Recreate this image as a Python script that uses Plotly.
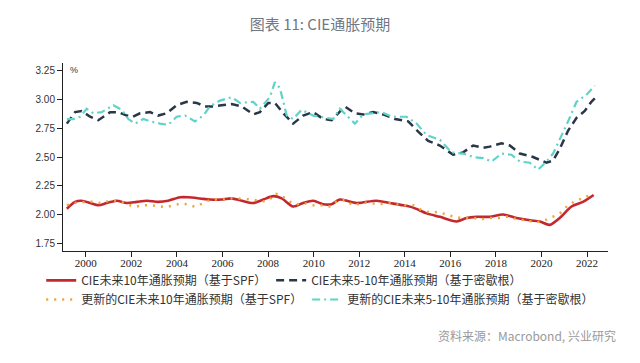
import plotly.graph_objects as go

# ---- data (decimal years, percent) ----
spf_x = [1999.17, 1999.53, 1999.82, 2000.19, 2000.55, 2000.92, 2001.36, 2001.8, 2002.24, 2002.68,
         2003.18, 2003.62, 2004.14, 2004.5, 2005.01, 2005.45, 2005.96, 2006.4, 2006.84, 2007.35,
         2007.79, 2008.23, 2008.6, 2009.1, 2009.54, 2009.98, 2010.42, 2010.79, 2011.15, 2011.89,
         2012.76, 2013.35, 2013.93, 2014.37, 2014.96, 2015.54, 2016.27, 2016.71, 2017.15, 2017.73,
         2018.32, 2018.9, 2019.49, 2019.93, 2020.36, 2020.8, 2021.32, 2021.82, 2022.29]
spf_y = [2.05, 2.11, 2.12, 2.10, 2.08, 2.10, 2.12, 2.10, 2.11, 2.12,
         2.11, 2.12, 2.15, 2.15, 2.14, 2.13, 2.13, 2.14, 2.12, 2.10,
         2.13, 2.16, 2.14, 2.07, 2.10, 2.12, 2.09, 2.09, 2.13, 2.10,
         2.12, 2.10, 2.08, 2.06, 2.01, 1.98, 1.94, 1.97, 1.98, 1.98,
         2.00, 1.97, 1.95, 1.94, 1.91, 1.97, 2.07, 2.11, 2.17]

mich_x = [1999.17, 1999.53, 1999.82, 2000.19, 2000.55, 2001.07, 2001.43, 2001.8, 2002.07, 2002.38,
          2002.82, 2003.18, 2003.55, 2003.99, 2004.43, 2004.87, 2005.23, 2005.6, 2005.96, 2006.4,
          2006.84, 2007.06, 2007.35, 2007.64, 2008.01, 2008.3, 2008.67, 2009.1, 2009.54, 2009.98,
          2010.42, 2010.79, 2011.15, 2011.37, 2011.81, 2012.18, 2012.61, 2013.05, 2013.57, 2014.15,
          2014.59, 2015.03, 2015.54, 2016.12, 2016.56, 2017.0, 2017.44, 2017.73, 2018.25, 2018.61,
          2019.05, 2019.63, 2020.22, 2020.51, 2020.8, 2021.17, 2021.54, 2021.9, 2022.19, 2022.34]
mich_y = [2.79, 2.89, 2.90, 2.85, 2.82, 2.89, 2.89, 2.86, 2.85, 2.88,
          2.89, 2.86, 2.88, 2.95, 2.98, 2.97, 2.94, 2.94, 2.95, 2.96,
          2.94, 2.91, 2.87, 2.89, 2.97, 2.97, 2.88, 2.79, 2.86, 2.89,
          2.83, 2.82, 2.89, 2.94, 2.88, 2.87, 2.89, 2.87, 2.83, 2.81,
          2.72, 2.64, 2.60, 2.52, 2.54, 2.60, 2.58, 2.59, 2.62, 2.60,
          2.53, 2.50, 2.45, 2.47, 2.57, 2.73, 2.84, 2.90, 2.98, 3.01]

spf_new_x = [1999.17, 1999.53, 2000.33, 2000.7, 2001.07, 2001.43, 2001.8, 2002.16, 2002.53, 2002.9,
             2003.26, 2003.62, 2004.06, 2004.43, 2004.8, 2005.16, 2005.53, 2005.89, 2006.18, 2006.6,
             2007.28, 2008.0, 2008.3, 2008.6, 2009.18, 2009.54, 2009.98, 2010.35, 2010.7, 2011.08,
             2011.45, 2011.74, 2012.1, 2012.47, 2012.83, 2013.27, 2013.64, 2014.0, 2014.37, 2014.74,
             2015.1, 2015.46, 2015.83, 2016.2, 2016.56, 2017.0, 2017.37, 2017.73, 2018.1, 2018.53,
             2018.9, 2019.27, 2019.63, 2020.0, 2020.36, 2020.8, 2021.17, 2021.54, 2021.9, 2022.26]
spf_new_y = [2.08, 2.10, 2.11, 2.10, 2.12, 2.12, 2.09, 2.07, 2.08, 2.08,
             2.07, 2.07, 2.09, 2.09, 2.07, 2.10, 2.13, 2.13, 2.14, 2.14,
             2.13, 2.12, 2.18, 2.16, 2.09, 2.10, 2.08, 2.08, 2.07, 2.12,
             2.12, 2.08, 2.10, 2.10, 2.09, 2.10, 2.09, 2.08, 2.08, 2.04,
             2.02, 2.02, 2.00, 1.98, 1.97, 1.97, 1.96, 1.97, 1.97, 1.98,
             1.96, 1.95, 1.94, 1.94, 1.97, 2.01, 2.08, 2.12, 2.15, 2.18]

mich_new_x = [1999.17, 1999.46, 1999.75, 2000.04, 2000.33, 2000.7, 2001.21, 2001.58, 2001.87, 2002.16,
              2002.53, 2002.82, 2003.26, 2003.62, 2003.99, 2004.36, 2004.79, 2005.16, 2005.45, 2005.89,
              2006.4, 2006.77, 2007.35, 2007.64, 2008.08, 2008.3, 2008.52, 2008.82, 2009.1, 2009.47,
              2009.98, 2010.35, 2010.86, 2011.15, 2011.81, 2012.18, 2012.61, 2012.98, 2013.42, 2014.08,
              2014.52, 2014.96, 2015.54, 2016.05, 2016.56, 2017.0, 2017.44, 2017.81, 2018.25, 2018.68,
              2019.05, 2019.49, 2019.85, 2020.22, 2020.51, 2020.8, 2021.17, 2021.54, 2021.97, 2022.34]
mich_new_y = [2.83, 2.83, 2.85, 2.92, 2.88, 2.89, 2.95, 2.91, 2.83, 2.79,
              2.83, 2.81, 2.79, 2.78, 2.85, 2.86, 2.81, 2.86, 2.94, 2.99,
              3.02, 2.97, 2.98, 2.92, 3.02, 3.15, 3.10, 2.86, 2.83, 2.91,
              2.86, 2.85, 2.83, 2.92, 2.79, 2.87, 2.88, 2.89, 2.85, 2.85,
              2.79, 2.69, 2.65, 2.54, 2.53, 2.50, 2.49, 2.46, 2.53, 2.52,
              2.46, 2.45, 2.39, 2.46, 2.53, 2.65, 2.81, 2.98, 3.04, 3.12]

x_ticks = list(range(2000, 2023, 2))
y_ticks = [1.75, 2.00, 2.25, 2.50, 2.75, 3.00, 3.25]

names = ["CIE未来10年通胀预期（基于SPF）",
         "CIE未来5-10年通胀预期（基于密歇根）",
         "更新的CIE未来10年通胀预期（基于SPF）",
         "更新的CIE未来5-10年通胀预期（基于密歇根）"]

fig = go.Figure()
fig.add_trace(go.Scatter(x=spf_x, y=spf_y, mode="lines", name=names[0],
                         line=dict(color="#c4282f", width=2.6, shape="spline", smoothing=0.8),
                         legend="legend"))
fig.add_trace(go.Scatter(x=mich_x, y=mich_y, mode="lines", name=names[1],
                         line=dict(color="#2b3648", width=2.5, dash="8px,5px"),
                         legend="legend"))
fig.add_trace(go.Scatter(x=spf_new_x, y=spf_new_y, mode="lines", name=names[2],
                         line=dict(color="#eda53a", width=2.5, dash="2px,6px", shape="spline"),
                         legend="legend2"))
fig.add_trace(go.Scatter(x=mich_new_x, y=mich_new_y, mode="lines", name=names[3],
                         line=dict(color="#5fd3c8", width=2.2, dash="8px,4px,2px,4px"),
                         legend="legend2"))

legend_common = dict(orientation="h", xanchor="left", yanchor="middle", x=-0.04,
                     font=dict(family="Noto Sans CJK SC", size=12, color="#333333"),
                     bgcolor="rgba(0,0,0,0)", itemwidth=30, tracegroupgap=0,
                     itemclick=False, itemdoubleclick=False)

fig.update_layout(
    width=640, height=363,
    paper_bgcolor="white", plot_bgcolor="white",
    margin=dict(l=63, r=32, t=63, b=112),
    title=dict(text="图表 11: CIE通胀预期", x=0.5, xanchor="center", y=1 - 25 / 363, yanchor="middle",
               xref="container", yref="container",
               font=dict(family="Noto Sans CJK SC", size=15, color="#717783")),
    showlegend=True,
    legend=dict(y=-0.156, **legend_common),
    legend2=dict(y=-0.258, **legend_common),
    xaxis=dict(range=[1999.0, 2022.92], tickmode="array", tickvals=x_ticks,
               ticktext=[str(t) for t in x_ticks],
               showgrid=False, zeroline=False, showline=True, linecolor="#222222", linewidth=1,
               ticks="outside", ticklen=5, tickcolor="#222222", ticklabelstandoff=-3,
               tickfont=dict(family="Liberation Serif", size=11, color="#222222")),
    yaxis=dict(range=[1.683, 3.317], tickmode="array", tickvals=y_ticks,
               ticktext=[f"{v:.2f}" for v in y_ticks],
               showgrid=False, zeroline=False, showline=True, linecolor="#222222", linewidth=1,
               ticks="outside", ticklen=5, tickcolor="#222222",
               tickfont=dict(family="Liberation Sans", size=10, color="#333333")),
    annotations=[
        dict(text="%", xref="paper", yref="paper", x=0.01, y=0.965, xanchor="left", yanchor="middle",
             showarrow=False, font=dict(family="Liberation Sans", size=9, color="#333333")),
        dict(text="资料来源：Macrobond, 兴业研究", xref="paper", yref="paper", x=1.018, y=-0.452,
             xanchor="right", yanchor="middle", showarrow=False,
             font=dict(family="Noto Sans CJK SC", size=12, color="#9a9a9a")),
    ],
)

fig.write_html("out.html", config={"displayModeBar": False},
               post_script="document.body.style.margin='0';")
